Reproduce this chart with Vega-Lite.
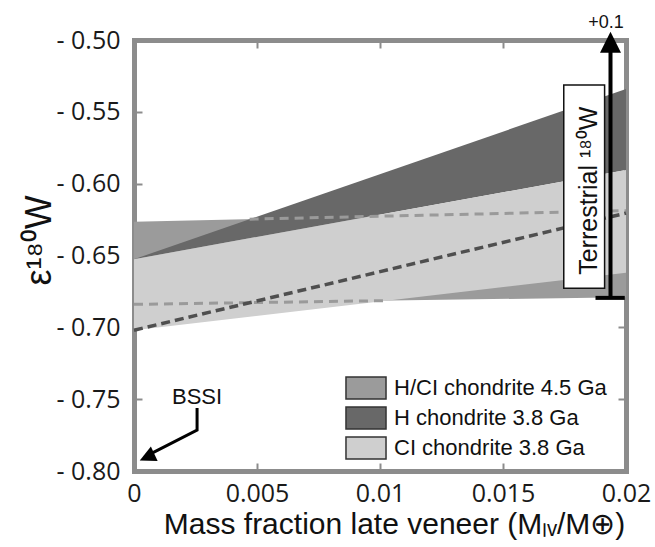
{
  "$schema": "https://vega.github.io/schema/vega-lite/v6.json",
  "width": 492,
  "height": 431,
  "autosize": {"type": "none"},
  "padding": {"left": 134, "top": 40, "right": 29, "bottom": 76},
  "background": "white",
  "config": {
    "view": {"stroke": null},
    "axis": {
      "grid": false,
      "zindex": 1,
      "domainColor": "#8c8c8c",
      "domainWidth": 5,
      "domainCap": "square",
      "tickColor": "#8c8c8c",
      "tickWidth": 2,
      "tickSize": -8,
      "labelFont": "Open Sans",
      "labelFontSize": 25,
      "labelColor": "#1a1a1a",
      "labelFlush": false,
      "labelOverlap": false,
      "titleFont": "Liberation Sans",
      "titleFontWeight": "normal",
      "titleColor": "#111111"
    }
  },
  "datasets": {
    "bands": [
      {"series": "H/CI chondrite 4.5 Ga", "x": 0, "top": -0.6265, "bottom": -0.684},
      {"series": "H/CI chondrite 4.5 Ga", "x": 0.02, "top": -0.6188, "bottom": -0.679},
      {"series": "H chondrite 3.8 Ga", "x": 0, "top": -0.6526, "bottom": -0.6526},
      {"series": "H chondrite 3.8 Ga", "x": 0.02, "top": -0.5341, "bottom": -0.5905},
      {"series": "CI chondrite 3.8 Ga", "x": 0, "top": -0.6526, "bottom": -0.702},
      {"series": "CI chondrite 3.8 Ga", "x": 0.02, "top": -0.5905, "bottom": -0.662}
    ],
    "lines": [
      {"line": "H/CI upper edge", "shade": "light", "x": 0.0047, "y": -0.6247},
      {"line": "H/CI upper edge", "shade": "light", "x": 0.02, "y": -0.6188},
      {"line": "H/CI lower edge", "shade": "light", "x": 0, "y": -0.684},
      {"line": "H/CI lower edge", "shade": "light", "x": 0.0103, "y": -0.6814},
      {"line": "H mean", "shade": "dark", "x": 0, "y": -0.702},
      {"line": "H mean", "shade": "dark", "x": 0.02, "y": -0.6205}
    ],
    "terrestrialBox": [
      {"x": 0.01747, "x2": 0.01913, "y": -0.5313, "y2": -0.6728}
    ],
    "labels": [
      {"kind": "terrestrial", "text": "Terrestrial ¹⁸⁰W", "x": 0.01884, "y": -0.6049},
      {"kind": "plus", "text": "+0.1", "x": 0.01919, "y": -0.4916},
      {"kind": "bssi", "text": "BSSI", "x": 0.002564, "y": -0.7534}
    ],
    "terrestrialBar": [
      {"x": 0.01937, "y": -0.6795, "y2": -0.5035}
    ],
    "terrestrialCap": [
      {"x": 0.01876, "x2": 0.01995, "y": -0.6795}
    ],
    "heads": [
      {"name": "terrestrial", "x": 0.01937, "y": -0.5015},
      {"name": "bssi", "x": 0.000529, "y": -0.7903}
    ],
    "bssiArrow": [
      {"i": 0, "x": 0.002564, "y": -0.7561},
      {"i": 1, "x": 0.002564, "y": -0.7715},
      {"i": 2, "x": 0.000732, "y": -0.7875}
    ]
  },
  "layer": [
    {
      "data": {"name": "bands"},
      "transform": [{"filter": "datum.series === 'H/CI chondrite 4.5 Ga'"}],
      "mark": {"type": "area", "strokeWidth": 0},
      "encoding": {
        "x": {
          "field": "x", "type": "quantitative",
          "scale": {"domain": [0, 0.02], "nice": false, "zero": false},
          "axis": {
            "orient": "bottom",
            "values": [0, 0.005, 0.01, 0.015, 0.02],
            "labelExpr": "format(datum.value, '~g')",
            "labelPadding": 18,
            "title": "Mass fraction late veneer (Mₗᵥ/M⊕)",
            "titleFontSize": 30,
            "titleX": 260,
            "titleY": 62,
            "titleAlign": "center",
            "titleBaseline": "alphabetic"
          }
        },
        "y": {
          "field": "top", "type": "quantitative", "stack": null,
          "scale": {"domain": [-0.8, -0.5], "nice": false, "zero": false},
          "axis": {
            "orient": "left",
            "values": [-0.8, -0.75, -0.7, -0.65, -0.6, -0.55, -0.5],
            "labelExpr": "'- ' + format(-datum.value, '.2f')",
            "labelPadding": 22,
            "labelBaseline": "middle",
            "title": "ε¹⁸⁰W",
            "titleFontSize": 36,
            "titleAngle": 270,
            "titleX": -84,
            "titleY": 200,
            "titleAlign": "center",
            "titleBaseline": "alphabetic"
          }
        },
        "y2": {"field": "bottom"},
        "fill": {
          "field": "series", "type": "nominal",
          "scale": {
            "domain": ["H/CI chondrite 4.5 Ga", "H chondrite 3.8 Ga", "CI chondrite 3.8 Ga"],
            "range": ["#9b9b9b", "#686868", "#cfcfcf"]
          },
          "legend": {
            "orient": "none",
            "legendX": 217,
            "legendY": 333,
            "title": null,
            "padding": 0,
            "symbolType": "M-1.43,-0.79H1.43V0.79H-1.43Z",
            "symbolSize": 784,
            "symbolStrokeColor": "#333333",
            "symbolStrokeWidth": 1.5,
            "labelOffset": 13,
            "rowPadding": 0,
            "labelFont": "Liberation Sans",
            "labelFontSize": 22,
            "labelColor": "#111111",
            "labelLimit": 400,
            "encode": {"symbols": {"update": {"stroke": {"value": "#333333"}, "strokeWidth": {"value": 1.5}, "opacity": {"value": 1}}}}
          }
        }
      }
    },
    {
      "data": {"name": "bands"},
      "transform": [{"filter": "datum.series === 'H chondrite 3.8 Ga'"}],
      "mark": {"type": "area", "strokeWidth": 0},
      "encoding": {
        "x": {"field": "x", "type": "quantitative", "scale": {"domain": [0, 0.02], "nice": false, "zero": false}, "axis": null},
        "y": {"field": "top", "type": "quantitative", "stack": null, "scale": {"domain": [-0.8, -0.5], "nice": false, "zero": false}, "axis": null},
        "y2": {"field": "bottom"},
        "fill": {"field": "series", "type": "nominal"}
      }
    },
    {
      "data": {"name": "bands"},
      "transform": [{"filter": "datum.series === 'CI chondrite 3.8 Ga'"}],
      "mark": {"type": "area", "strokeWidth": 0},
      "encoding": {
        "x": {"field": "x", "type": "quantitative", "scale": {"domain": [0, 0.02], "nice": false, "zero": false}, "axis": null},
        "y": {"field": "top", "type": "quantitative", "stack": null, "scale": {"domain": [-0.8, -0.5], "nice": false, "zero": false}, "axis": null},
        "y2": {"field": "bottom"},
        "fill": {"field": "series", "type": "nominal"}
      }
    },
    {
      "data": {"name": "lines"},
      "transform": [{"filter": "datum.shade === 'light'"}],
      "mark": {"type": "line", "color": "#9a9a9a", "strokeWidth": 3, "strokeDash": [9, 6]},
      "encoding": {
        "x": {
          "field": "x", "type": "quantitative",
          "scale": {"domain": [0, 0.02], "nice": false, "zero": false},
          "axis": {"orient": "top", "values": [0, 0.005, 0.01, 0.015, 0.02], "labels": false, "title": null}
        },
        "y": {
          "field": "y", "type": "quantitative",
          "scale": {"domain": [-0.8, -0.5], "nice": false, "zero": false},
          "axis": {"orient": "right", "values": [-0.8, -0.75, -0.7, -0.65, -0.6, -0.55, -0.5], "labels": false, "title": null}
        },
        "detail": {"field": "line", "type": "nominal"}
      }
    },
    {
      "data": {"name": "lines"},
      "transform": [{"filter": "datum.shade === 'dark'"}],
      "mark": {"type": "line", "color": "#4f4f4f", "strokeWidth": 3.5, "strokeDash": [9, 5]},
      "encoding": {
        "x": {"field": "x", "type": "quantitative", "scale": {"domain": [0, 0.02], "nice": false, "zero": false}, "axis": null},
        "y": {"field": "y", "type": "quantitative", "scale": {"domain": [-0.8, -0.5], "nice": false, "zero": false}, "axis": null}
      }
    },
    {
      "data": {"name": "terrestrialBox"},
      "mark": {"type": "rect", "fill": "white", "stroke": "#111111", "strokeWidth": 1.5},
      "encoding": {
        "x": {"field": "x", "type": "quantitative", "scale": {"domain": [0, 0.02], "nice": false, "zero": false}, "axis": null},
        "x2": {"field": "x2"},
        "y": {"field": "y", "type": "quantitative", "scale": {"domain": [-0.8, -0.5], "nice": false, "zero": false}, "axis": null},
        "y2": {"field": "y2"}
      }
    },
    {
      "data": {"name": "labels"},
      "transform": [{"filter": "datum.kind === 'terrestrial'"}],
      "mark": {"type": "text", "angle": 270, "font": "Liberation Sans", "fontSize": 25, "align": "center", "baseline": "alphabetic", "color": "#111111"},
      "encoding": {
        "x": {"field": "x", "type": "quantitative", "scale": {"domain": [0, 0.02], "nice": false, "zero": false}, "axis": null},
        "y": {"field": "y", "type": "quantitative", "scale": {"domain": [-0.8, -0.5], "nice": false, "zero": false}, "axis": null},
        "text": {"field": "text"}
      }
    },
    {
      "data": {"name": "labels"},
      "transform": [{"filter": "datum.kind === 'plus'"}],
      "mark": {"type": "text", "font": "Liberation Sans", "fontSize": 18, "align": "center", "baseline": "alphabetic", "color": "#111111"},
      "encoding": {
        "x": {"field": "x", "type": "quantitative", "scale": {"domain": [0, 0.02], "nice": false, "zero": false}, "axis": null},
        "y": {"field": "y", "type": "quantitative", "scale": {"domain": [-0.8, -0.5], "nice": false, "zero": false}, "axis": null},
        "text": {"field": "text"}
      }
    },
    {
      "data": {"name": "labels"},
      "transform": [{"filter": "datum.kind === 'bssi'"}],
      "mark": {"type": "text", "font": "Liberation Sans", "fontSize": 22, "align": "center", "baseline": "alphabetic", "color": "#111111"},
      "encoding": {
        "x": {"field": "x", "type": "quantitative", "scale": {"domain": [0, 0.02], "nice": false, "zero": false}, "axis": null},
        "y": {"field": "y", "type": "quantitative", "scale": {"domain": [-0.8, -0.5], "nice": false, "zero": false}, "axis": null},
        "text": {"field": "text"}
      }
    },
    {
      "data": {"name": "terrestrialBar"},
      "mark": {"type": "rule", "color": "#000000", "strokeWidth": 4},
      "encoding": {
        "x": {"field": "x", "type": "quantitative", "scale": {"domain": [0, 0.02], "nice": false, "zero": false}, "axis": null},
        "y": {"field": "y", "type": "quantitative", "scale": {"domain": [-0.8, -0.5], "nice": false, "zero": false}, "axis": null},
        "y2": {"field": "y2"}
      }
    },
    {
      "data": {"name": "terrestrialCap"},
      "mark": {"type": "rule", "color": "#000000", "strokeWidth": 4},
      "encoding": {
        "x": {"field": "x", "type": "quantitative", "scale": {"domain": [0, 0.02], "nice": false, "zero": false}, "axis": null},
        "x2": {"field": "x2"},
        "y": {"field": "y", "type": "quantitative", "scale": {"domain": [-0.8, -0.5], "nice": false, "zero": false}, "axis": null}
      }
    },
    {
      "data": {"name": "bssiArrow"},
      "mark": {"type": "line", "color": "#000000", "strokeWidth": 3, "strokeJoin": "miter"},
      "encoding": {
        "x": {"field": "x", "type": "quantitative", "scale": {"domain": [0, 0.02], "nice": false, "zero": false}, "axis": null},
        "y": {"field": "y", "type": "quantitative", "scale": {"domain": [-0.8, -0.5], "nice": false, "zero": false}, "axis": null},
        "order": {"field": "i", "type": "quantitative"}
      }
    },
    {
      "data": {"name": "heads"},
      "transform": [{"filter": "datum.name === 'terrestrial'"}],
      "mark": {"type": "point", "shape": "M0,-1L1,1L-1,1Z", "size": 441, "filled": true, "color": "#000000", "opacity": 1},
      "encoding": {
        "x": {"field": "x", "type": "quantitative", "scale": {"domain": [0, 0.02], "nice": false, "zero": false}, "axis": null},
        "y": {"field": "y", "type": "quantitative", "scale": {"domain": [-0.8, -0.5], "nice": false, "zero": false}, "axis": null}
      }
    },
    {
      "data": {"name": "heads"},
      "transform": [{"filter": "datum.name === 'bssi'"}],
      "mark": {"type": "point", "shape": "M0,-1L1,1L-1,1Z", "size": 256, "angle": 245, "filled": true, "color": "#000000", "opacity": 1},
      "encoding": {
        "x": {"field": "x", "type": "quantitative", "scale": {"domain": [0, 0.02], "nice": false, "zero": false}, "axis": null},
        "y": {"field": "y", "type": "quantitative", "scale": {"domain": [-0.8, -0.5], "nice": false, "zero": false}, "axis": null}
      }
    }
  ],
  "resolve": {"axis": {"x": "independent", "y": "independent"}}
}
